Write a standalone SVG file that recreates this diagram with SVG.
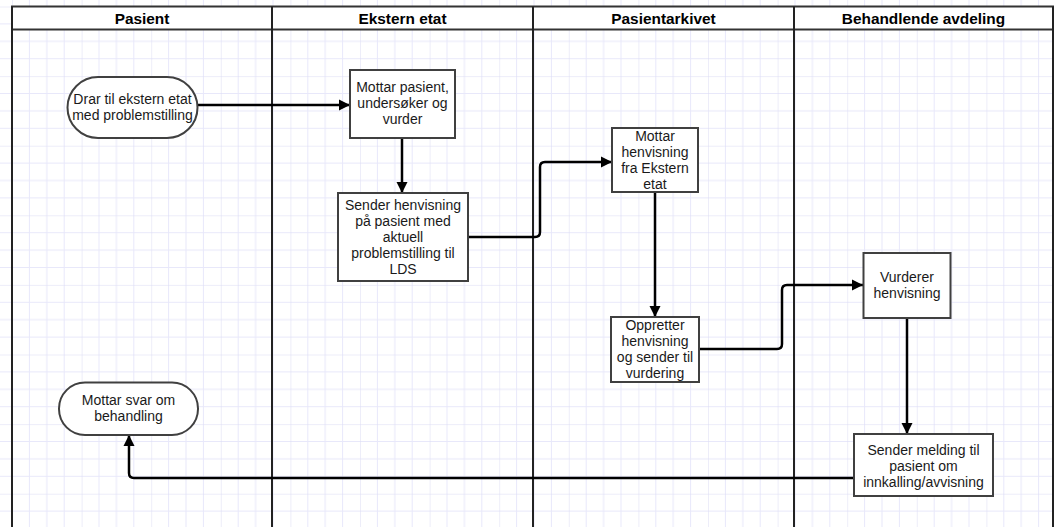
<svg xmlns="http://www.w3.org/2000/svg" width="1054" height="527" viewBox="0 0 1054 527">
  <defs>
    <pattern id="grid" patternUnits="userSpaceOnUse" x="12" y="6.5" width="69.6" height="69.6">
      <path d="M17.4,0V69.6M34.8,0V69.6M52.2,0V69.6M0,17.4H69.6M0,34.8H69.6M0,52.2H69.6" stroke="#e8e8fa" stroke-width="1" fill="none"/>
      <path d="M0,0V69.6M0,0H69.6" stroke="#dcdcf4" stroke-width="1" fill="none"/>
    </pattern>
    <marker id="arrow" markerUnits="userSpaceOnUse" markerWidth="12" markerHeight="12" refX="11" refY="6" orient="auto">
      <path d="M0,0.5L11,6L0,11.5z" fill="#000"/>
    </marker>
    <style>
      .lane{fill:none;stroke:#222;stroke-width:2}
      .head{fill:#fff;stroke:#333;stroke-width:2}
      .htxt{font-family:"Liberation Sans",Arial,sans-serif;font-size:15.4px;font-weight:bold;fill:#000;text-anchor:middle}
      .box{fill:#fff;stroke:#404040;stroke-width:2}
      .txt{font-family:"Liberation Sans",Arial,sans-serif;font-size:14px;fill:#1a1a1a;text-anchor:middle}
      .conn{fill:none;stroke:#000;stroke-width:2.5;marker-end:url(#arrow)}
    </style>
  </defs>

  <!-- background grid -->
  <rect width="1054" height="527" fill="#fff"/>
  <rect width="1054" height="527" fill="url(#grid)"/>

  <!-- swimlane pool -->
  <g id="pool">
    <rect class="head" x="12" y="6.5" width="1041" height="23"/>
    <path class="lane" d="M12,6.5V527M272,6.5V527M533,6.5V527M794,6.5V527M1053,6.5V527"/>
    <text class="htxt" x="142" y="23.5">Pasient</text>
    <text class="htxt" x="402.5" y="23.5">Ekstern etat</text>
    <text class="htxt" x="663.5" y="23.5">Pasientarkivet</text>
    <text class="htxt" x="923.5" y="23.5">Behandlende avdeling</text>
  </g>

  <!-- connectors -->
  <g id="connectors">
    <path class="conn" d="M197,105H350"/>
    <path class="conn" d="M402,138V193"/>
    <path class="conn" d="M468,237H535Q540,237 540,232V167Q540,162 545,162H612"/>
    <path class="conn" d="M655,193V317"/>
    <path class="conn" d="M699,349H777Q782,349 782,344V290Q782,285 787,285H863"/>
    <path class="conn" d="M907,318V434"/>
    <path class="conn" d="M854,478H134Q129,478 129,473V435"/>
  </g>

  <g id="n-drar">
    <rect class="box" x="67.5" y="77" width="130" height="61" rx="30.5"/>
    <text class="txt" x="132.5" y="104">Drar til ekstern etat</text>
    <text class="txt" x="132.5" y="120">med problemstilling</text>
  </g>

  <g id="n-mottar-pasient">
    <rect class="box" x="350" y="70" width="105" height="68"/>
    <text class="txt" x="402.5" y="92">Mottar pasient,</text>
    <text class="txt" x="402.5" y="108">undersøker og</text>
    <text class="txt" x="402.5" y="124">vurder</text>
  </g>

  <g id="n-sender-henvisning">
    <rect class="box" x="338" y="193" width="130" height="88"/>
    <text class="txt" x="403" y="210">Sender henvisning</text>
    <text class="txt" x="403" y="226">på pasient med</text>
    <text class="txt" x="403" y="242">aktuell</text>
    <text class="txt" x="403" y="258">problemstilling til</text>
    <text class="txt" x="403" y="274">LDS</text>
  </g>

  <g id="n-mottar-henvisning">
    <rect class="box" x="612" y="128" width="86" height="64"/>
    <text class="txt" x="655" y="141">Mottar</text>
    <text class="txt" x="655" y="157">henvisning</text>
    <text class="txt" x="655" y="173">fra Ekstern</text>
    <text class="txt" x="655" y="189">etat</text>
  </g>

  <g id="n-oppretter">
    <rect class="box" x="611" y="317" width="88" height="65"/>
    <text class="txt" x="655" y="330">Oppretter</text>
    <text class="txt" x="655" y="346">henvisning</text>
    <text class="txt" x="655" y="362">og sender til</text>
    <text class="txt" x="655" y="378">vurdering</text>
  </g>

  <g id="n-vurderer">
    <rect class="box" x="863.5" y="253" width="87" height="65"/>
    <text class="txt" x="907" y="282">Vurderer</text>
    <text class="txt" x="907" y="298">henvisning</text>
  </g>

  <g id="n-sender-melding">
    <rect class="box" x="854" y="434" width="139" height="62"/>
    <text class="txt" x="923.5" y="455">Sender melding til</text>
    <text class="txt" x="923.5" y="471">pasient om</text>
    <text class="txt" x="923.5" y="487">innkalling/avvisning</text>
  </g>

  <g id="n-mottar-svar">
    <rect class="box" x="59" y="382.5" width="139" height="52.5" rx="26"/>
    <text class="txt" x="128.5" y="405">Mottar svar om</text>
    <text class="txt" x="128.5" y="421">behandling</text>
  </g>
</svg>
